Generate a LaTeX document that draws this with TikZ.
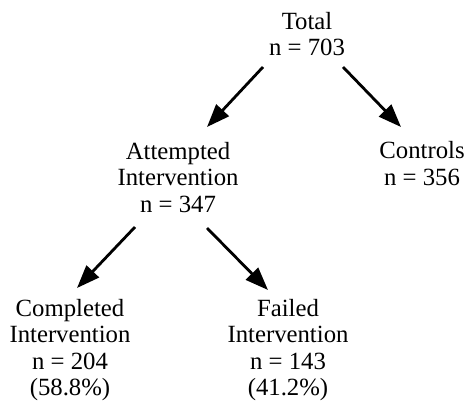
\documentclass[tikz,border=0pt]{standalone}
\usepackage{fontspec}
\setmainfont{Liberation Serif}
\usetikzlibrary{arrows.meta}
\tikzset{
  lbl/.style={align=center, inner sep=0pt, font=\fontsize{24.75}{26.5}\selectfont},
  arr/.style={line width=2.8pt, -{Triangle[length=23pt,width=17pt]}}
}
\begin{document}
\begin{tikzpicture}[x=1pt,y=-1pt]
\useasboundingbox (0,0) rectangle (465,402);
\node[lbl] (total) at (307,34) {Total\\n = 703};
\node[lbl] (att) at (178,177.5) {Attempted\\Intervention\\n = 347};
\node[lbl] (ctrl) at (422,163.5) {Controls\\n = 356};
\node[lbl] (comp) at (70,350) {Completed\\Intervention\\n = 204\\(58.8\%)};
\node[lbl] (fail) at (288,350) {Failed\\Intervention\\n = 143\\(41.2\%)};
\coordinate (t1) at (263,67);
\coordinate (t1e) at (207,127);
\coordinate (t2) at (343,67);
\coordinate (t2e) at (401,127);
\coordinate (a1) at (135,227);
\coordinate (a1e) at (77,288);
\coordinate (a2) at (207,228);
\coordinate (a2e) at (268,290);
\draw[arr] (t1) -- (t1e);
\draw[arr] (t2) -- (t2e);
\draw[arr] (a1) -- (a1e);
\draw[arr] (a2) -- (a2e);
\end{tikzpicture}
\end{document}
